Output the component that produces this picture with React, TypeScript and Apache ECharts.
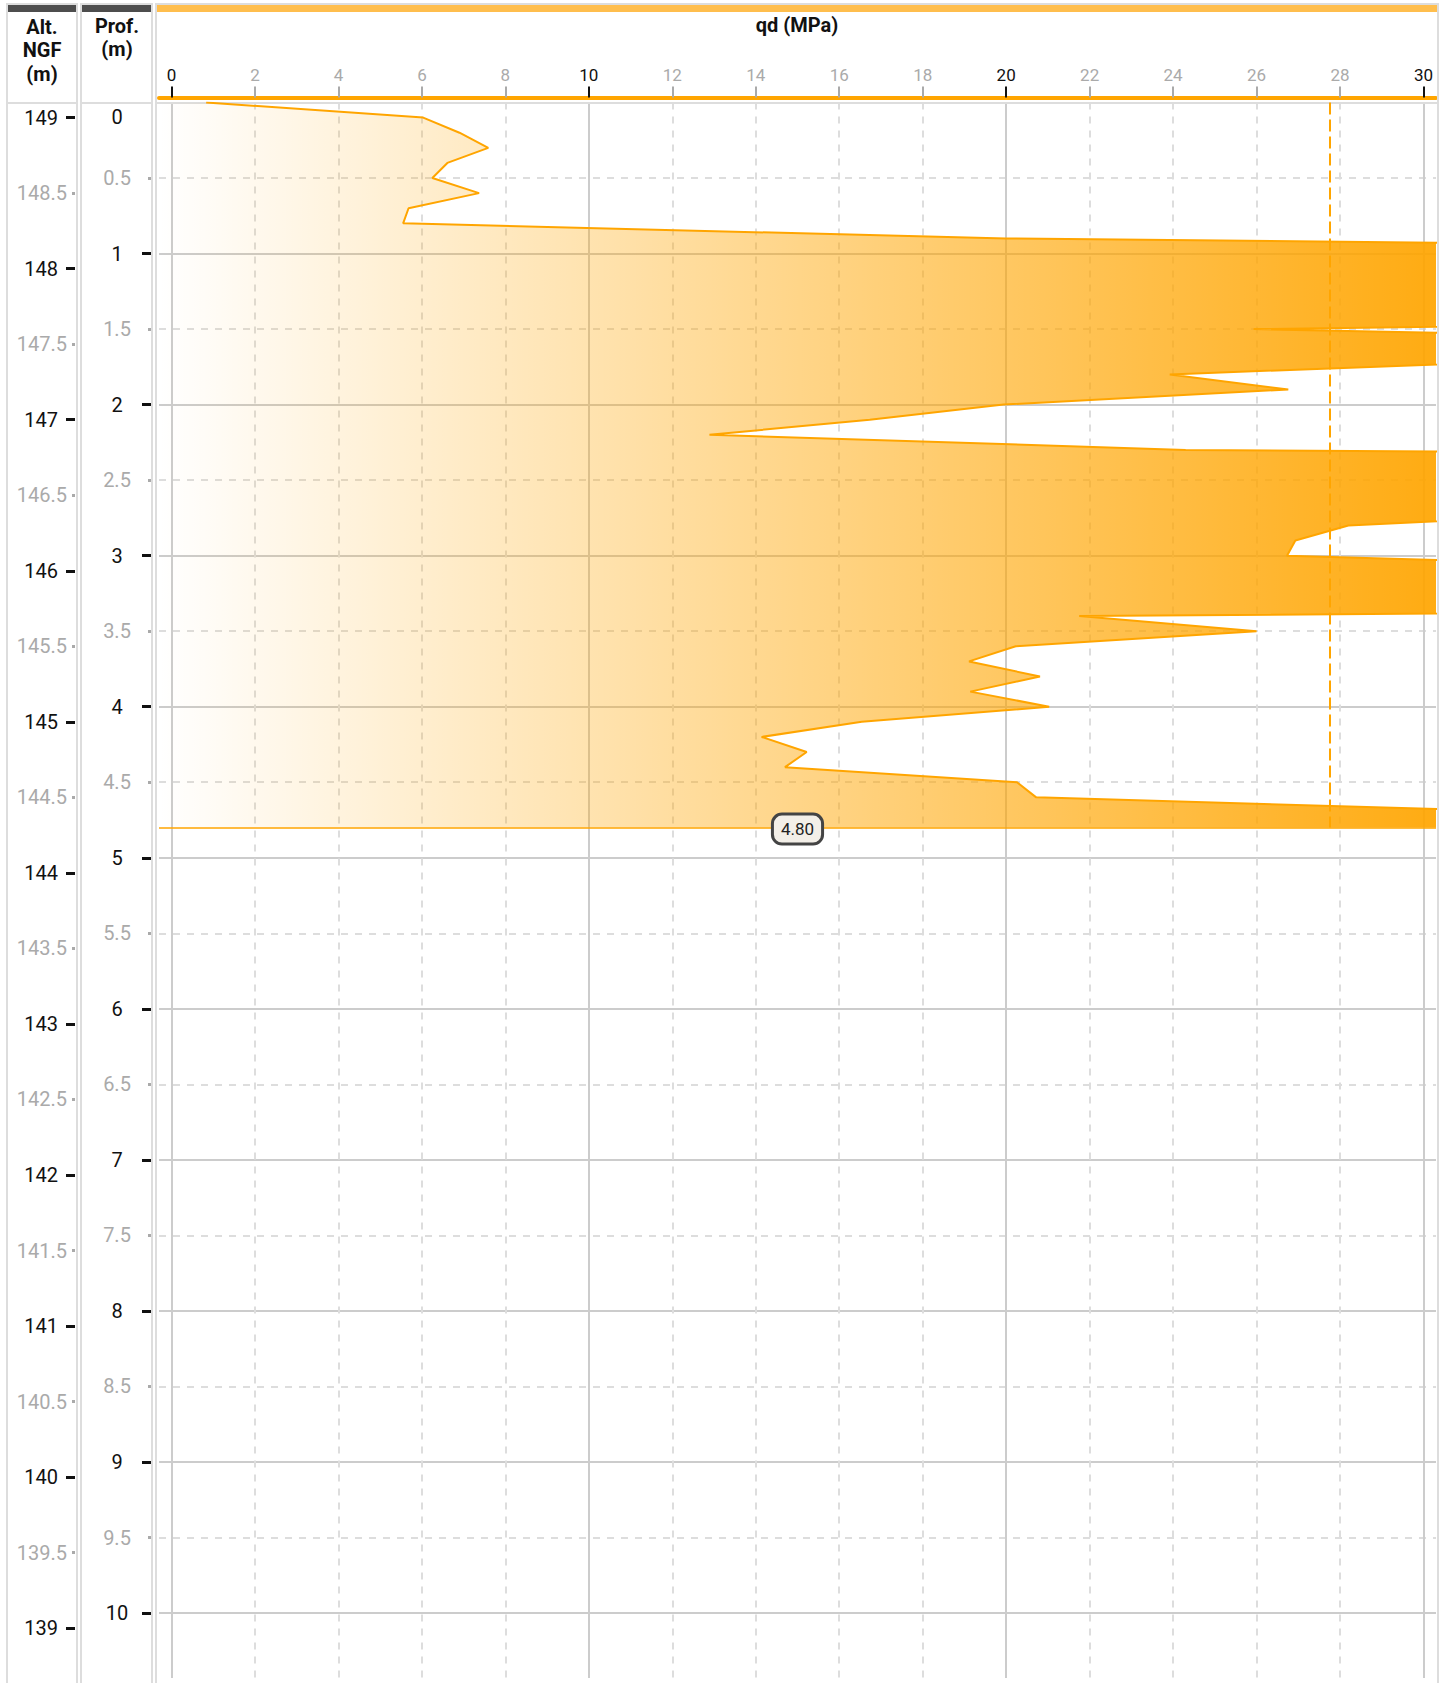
import React, { useEffect, useRef } from 'react';
import * as echarts from 'echarts';

// ---- Data ----
const depths = [
  0, 0.1, 0.2, 0.3, 0.4, 0.5, 0.6, 0.7, 0.8, 0.9,
  1.0, 1.1, 1.2, 1.3, 1.4, 1.5, 1.6, 1.7, 1.8, 1.9,
  2.0, 2.1, 2.2, 2.3, 2.4, 2.5, 2.6, 2.7, 2.8, 2.9,
  3.0, 3.1, 3.2, 3.3, 3.4, 3.5, 3.6, 3.7, 3.8, 3.9,
  4.0, 4.1, 4.2, 4.3, 4.4, 4.5, 4.6, 4.7, 4.8,
];
const qdValues = [
  0.83, 6.03, 6.9, 7.59, 6.61, 6.25, 7.37, 5.68, 5.55, 20.0,
  57, 60, 58, 55, 54.8, 25.93, 43.9, 33.6, 23.92, 26.76,
  19.94, 16.73, 12.89, 24.3, 78, 70, 52, 35.7, 28.2, 26.93,
  26.73, 39.4, 48, 69.8, 21.75, 26.0, 20.23, 19.11, 20.81, 19.14,
  21.03, 16.54, 14.14, 15.22, 14.7, 20.26, 20.72, 33.2, 40,
];
const xMajorTicks = [0, 10, 20, 30];
const xMinorTicks = [2, 4, 6, 8, 12, 14, 16, 18, 22, 24, 26, 28];
const depthMajorTicks = [0, 1, 2, 3, 4, 5, 6, 7, 8, 9, 10];
const depthMajorTickMarks = [1, 2, 3, 4, 5, 6, 7, 8, 9, 10];
const depthMinorTicks = [0.5, 1.5, 2.5, 3.5, 4.5, 5.5, 6.5, 7.5, 8.5, 9.5];
const altMajorTicks = [149, 148, 147, 146, 145, 144, 143, 142, 141, 140, 139];
const altMinorTicks = [148.5, 147.5, 146.5, 145.5, 144.5, 143.5, 142.5, 141.5, 140.5, 139.5];
const testEndDepth = 4.8;
const thresholdQd = 27.75;
const X_MIN = -0.3;
const X_MAX = 30.3;
const DEPTH_MAX = 10.43;
const ALT_TOP = 149.1;
const ALT_BOTTOM = 138.67;

// ---- Layout ----
const GRID_TOP = 102.5;
const GRID_H = 1575.5;
const FONT = 'Roboto';
const ORANGE = '#FFA500';

function sideGrid(left: number) {
  return { left, top: GRID_TOP, width: 1, height: GRID_H, containLabel: false };
}

function sideAxis(
  gridIndex: number,
  labels: number[],
  tickMarks: number[],
  major: boolean,
  isDepth: boolean,
) {
  const color = major ? '#111111' : '#aaaaaa';
  const label: any = {
    show: true,
    customValues: labels,
    color,
    fontSize: 20,
    fontFamily: FONT,
    margin: isDepth ? 34 : major ? 17 : 8,
  };
  if (isDepth) {
    label.align = 'center';
    if (major) {
      label.formatter = (v: number) => (v === 0 ? '{z|0}' : String(v));
      label.rich = { z: { fontSize: 20, color: '#111111', fontFamily: FONT, padding: [28, 0, 0, 0] } };
    }
  }
  return {
    type: 'value',
    gridIndex,
    position: 'left',
    inverse: isDepth,
    min: isDepth ? 0 : ALT_BOTTOM,
    max: isDepth ? DEPTH_MAX : ALT_TOP,
    axisLine: { show: false },
    axisTick: {
      show: true, inside: false, length: major ? 9 : 3, customValues: tickMarks,
      lineStyle: { color, width: 3 },
    },
    axisLabel: label,
    splitLine: { show: false },
  };
}

export default function App() {
  const ref = useRef<HTMLDivElement>(null);

  useEffect(() => {
    if (!ref.current) return;
    const chart = echarts.init(ref.current, undefined, { renderer: 'svg' });

    const option: any = {
      animation: false,
      textStyle: { fontFamily: FONT },
      grid: [
        { left: 159, top: GRID_TOP, width: 1277, height: GRID_H, containLabel: false },
        sideGrid(75),
        sideGrid(75),
        sideGrid(151),
        sideGrid(151),
      ],
      xAxis: [
        {
          type: 'value', gridIndex: 0, position: 'top', min: X_MIN, max: X_MAX, offset: 5,
          axisLine: { show: true, onZero: false, lineStyle: { color: ORANGE, width: 4 } },
          axisTick: { show: true, customValues: xMajorTicks, length: 11, lineStyle: { color: '#111', width: 2 } },
          axisLabel: { show: true, customValues: xMajorTicks, color: '#111', fontSize: 17, margin: 14, fontFamily: FONT },
          splitLine: { show: true, lineStyle: { color: '#cccccc', width: 2 } },
        },
        {
          type: 'value', gridIndex: 0, position: 'top', min: X_MIN, max: X_MAX, offset: 5,
          axisLine: { show: false, onZero: false },
          axisTick: { show: true, customValues: xMinorTicks, length: 11, lineStyle: { color: '#aaaaaa', width: 2 } },
          axisLabel: { show: true, customValues: xMinorTicks, color: '#aaaaaa', fontSize: 17, margin: 14, fontFamily: FONT },
          splitLine: { show: true, lineStyle: { color: '#dddddd', width: 2, type: [7, 7] } },
        },
        { type: 'value', gridIndex: 1, show: false, min: 0, max: 1 },
        { type: 'value', gridIndex: 2, show: false, min: 0, max: 1 },
        { type: 'value', gridIndex: 3, show: false, min: 0, max: 1 },
        { type: 'value', gridIndex: 4, show: false, min: 0, max: 1 },
      ],
      yAxis: [
        {
          type: 'value', gridIndex: 0, inverse: true, min: 0, max: DEPTH_MAX,
          axisLine: { show: false }, axisTick: { show: false, customValues: depthMajorTicks },
          axisLabel: { show: false, customValues: depthMajorTicks },
          splitLine: { show: true, lineStyle: { color: '#cccccc', width: 2 } },
        },
        {
          type: 'value', gridIndex: 0, inverse: true, min: 0, max: DEPTH_MAX,
          axisLine: { show: false }, axisTick: { show: false, customValues: depthMinorTicks },
          axisLabel: { show: false, customValues: depthMinorTicks },
          splitLine: { show: true, lineStyle: { color: '#dddddd', width: 2, type: [7, 7] } },
        },
        sideAxis(1, altMajorTicks, altMajorTicks, true, false),
        sideAxis(2, altMinorTicks, altMinorTicks, false, false),
        sideAxis(3, depthMajorTicks, depthMajorTickMarks, true, true),
        sideAxis(4, depthMinorTicks, depthMinorTicks, false, true),
      ],
      graphic: [
        // column frames
        { type: 'rect', z: 1, shape: { x: 7, y: 4, width: 70, height: 1700 }, style: { fill: 'none', stroke: '#dddddd', lineWidth: 2 } },
        { type: 'rect', z: 1, shape: { x: 81, y: 4, width: 71, height: 1700 }, style: { fill: 'none', stroke: '#dddddd', lineWidth: 2 } },
        { type: 'rect', z: 1, shape: { x: 156, y: 4, width: 1282, height: 1700 }, style: { fill: 'none', stroke: '#dddddd', lineWidth: 2 } },
        // header bars
        { type: 'rect', z: 2, shape: { x: 8, y: 5, width: 68, height: 7 }, style: { fill: '#4d4d4d' } },
        { type: 'rect', z: 2, shape: { x: 82, y: 5, width: 69, height: 7 }, style: { fill: '#4d4d4d' } },
        { type: 'rect', z: 2, shape: { x: 157, y: 5, width: 1280, height: 7 }, style: { fill: '#FFBE4D' } },
        // header separators
        { type: 'line', z: 1, shape: { x1: 7, y1: 103, x2: 77, y2: 103 }, style: { stroke: '#dddddd', lineWidth: 2 } },
        { type: 'line', z: 1, shape: { x1: 81, y1: 103, x2: 152, y2: 103 }, style: { stroke: '#dddddd', lineWidth: 2 } },
        { type: 'line', z: 1, shape: { x1: 156, y1: 103, x2: 1438, y2: 103 }, style: { stroke: '#dddddd', lineWidth: 2 } },
        // header texts
        {
          type: 'text', z: 3, x: 42, y: 15,
          style: { text: 'Alt.\nNGF\n(m)', align: 'center', verticalAlign: 'top', fontSize: 20, fontWeight: 'bold', fontFamily: FONT, lineHeight: 23.5, fill: '#111' },
        },
        {
          type: 'text', z: 3, x: 117, y: 14,
          style: { text: 'Prof.\n(m)', align: 'center', verticalAlign: 'top', fontSize: 20, fontWeight: 'bold', fontFamily: FONT, lineHeight: 23.5, fill: '#111' },
        },
        {
          type: 'text', z: 3, x: 797, y: 25,
          style: { text: 'qd (MPa)', align: 'center', verticalAlign: 'middle', fontSize: 20, fontWeight: 'bold', fontFamily: FONT, fill: '#111' },
        },
      ],
      series: [
        {
          type: 'custom', xAxisIndex: 0, yAxisIndex: 0, clip: true, silent: true, z: 2,
          data: [[qdValues[0], depths[0]]],
          renderItem: (params: any, api: any) => {
            const cs = params.coordSys;
            const pts = depths.map((d, i) => api.coord([qdValues[i], d]));
            const startPt = api.coord([X_MIN, depths[0]]);
            const endPt = api.coord([X_MIN, depths[depths.length - 1]]);
            return {
              type: 'polygon',
              shape: { points: [startPt, ...pts, endPt] },
              style: {
                fill: new echarts.graphic.LinearGradient(cs.x, 0, cs.x + cs.width, 0, [
                  { offset: 0, color: 'rgba(255,165,0,0)' },
                  { offset: 1, color: 'rgba(255,165,0,0.93)' },
                ], true),
              },
            };
          },
        },
        {
          type: 'line', xAxisIndex: 0, yAxisIndex: 0, z: 3,
          data: depths.map((d, i) => [qdValues[i], d]),
          showSymbol: false, symbol: 'none',
          lineStyle: { color: ORANGE, width: 2 },
          markLine: {
            silent: true, symbol: ['none', 'none'], animation: false,
            data: [
              {
                yAxis: testEndDepth,
                lineStyle: { color: ORANGE, width: 1.5, type: 'solid' },
                label: {
                  show: true, position: 'middle', formatter: testEndDepth.toFixed(2),
                  distance: [0, -15],
                  color: '#222', fontSize: 17, fontFamily: FONT,
                  backgroundColor: '#F3EFE8', borderColor: '#444', borderWidth: 3, borderRadius: 8,
                  padding: [5, 7],
                },
              },
              [
                { coord: [thresholdQd, 0], lineStyle: { color: ORANGE, width: 2, type: [12, 5] }, label: { show: false } },
                { coord: [thresholdQd, testEndDepth] },
              ],
            ],
          },
        },
      ],
    };

    chart.setOption(option);
    return () => chart.dispose();
  }, []);

  return (
    <div
      ref={ref}
      style={{ position: 'absolute', left: 0, top: 0, width: 1448, height: 1683, background: '#fff' }}
    />
  );
}
